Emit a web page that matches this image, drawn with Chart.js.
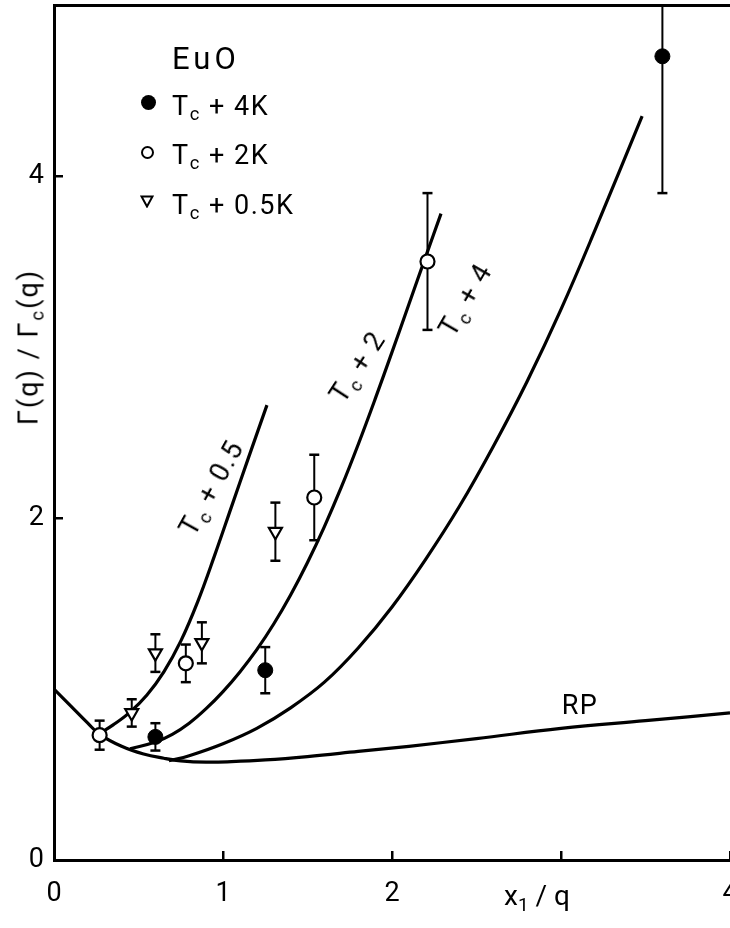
<!DOCTYPE html>
<html><head><meta charset="utf-8">
<script src="https://cdn.jsdelivr.net/npm/chart.js@4/dist/chart.umd.min.js"></script>
<style>
html,body{margin:0;padding:0;background:#fff;}
#wrap{position:relative;width:730px;height:928px;overflow:hidden;font-family:Roboto,'DejaVu Sans',sans-serif;color:#000;}
canvas{position:absolute;left:0;top:0;}
.t{position:absolute;white-space:nowrap;line-height:1;}
.t sub{font-size:68%;vertical-align:-0.3em;line-height:0;}
.mk{position:absolute;box-sizing:border-box;}
.lg{font-size:27px;letter-spacing:1.5px;}
</style></head><body>
<div id="wrap">
<canvas id="c" width="730" height="928"></canvas>
<div class="t" style="left:172px;top:58px;transform:translateY(-50%);font-size:31px;letter-spacing:4px;">EuO</div>
<div class="mk" style="left:141px;top:95px;width:15px;height:15px;border-radius:50%;background:#000;"></div>
<div class="t lg" style="left:172px;top:106px;transform:translateY(-50%);">T<sub>c</sub> + 4K</div>
<div class="mk" style="left:141px;top:146px;width:13px;height:13px;border-radius:50%;border:2px solid #000;"></div>
<div class="t lg" style="left:172px;top:155px;transform:translateY(-50%);">T<sub>c</sub> + 2K</div>
<svg class="mk" style="left:140px;top:195px;" width="14" height="13"><polygon points="1.5,1.5 12.5,1.5 7,11.5" fill="#fff" stroke="#000" stroke-width="2"/></svg>
<div class="t lg" style="left:172px;top:205px;transform:translateY(-50%);">T<sub>c</sub> + 0.5K</div>
<div class="t lg" style="left:212px;top:488px;transform:translate(-50%,-50%) rotate(-61deg);">T<sub>c</sub> + 0.5</div>
<div class="t lg" style="left:358px;top:367px;transform:translate(-50%,-50%) rotate(-57deg);">T<sub>c</sub> + 2</div>
<div class="t lg" style="left:466px;top:300px;transform:translate(-50%,-50%) rotate(-60deg);">T<sub>c</sub> + 4</div>
<div class="t lg" style="left:580px;top:705px;transform:translate(-50%,-50%);">RP</div>
<div class="t" style="left:29px;top:347px;transform:translate(-50%,-50%) rotate(-90deg);font-size:27px;letter-spacing:2px;">Γ(q) / Γ<sub>c</sub>(q)</div>
<div class="t" style="left:537px;top:896px;transform:translate(-50%,-50%);font-size:28px;">x<sub>1</sub> / q</div>
</div>
<script>
// ---- data ----
const rpX   = [0, 0.1, 0.2, 0.27, 0.4, 0.53, 0.65, 0.75, 0.9, 1.05, 1.25, 1.5, 1.8, 2.1, 2.5, 3.0, 3.5, 4.0];
const rpY   = [1.0, 0.9, 0.8, 0.735, 0.665, 0.62, 0.595, 0.58, 0.572, 0.575, 0.585, 0.605, 0.635, 0.665, 0.71, 0.77, 0.815, 0.86];
const tc05X = [0.27, 0.35, 0.45, 0.55, 0.65, 0.75, 0.85, 0.95, 1.05, 1.15, 1.26];
const tc05Y = [0.74, 0.79, 0.865, 0.965, 1.10, 1.28, 1.51, 1.78, 2.065, 2.35, 2.66];
const tc2X  = [0.45, 0.6, 0.7, 0.8, 0.9, 1.0, 1.1, 1.2, 1.3, 1.4, 1.5, 1.6, 1.7, 1.8, 1.9, 2.0, 2.1, 2.2, 2.29];
const tc2Y  = [0.65, 0.69, 0.735, 0.80, 0.885, 0.985, 1.10, 1.23, 1.38, 1.55, 1.74, 1.95, 2.18, 2.43, 2.695, 2.97, 3.25, 3.53, 3.78];
const tc4X  = [0.68, 0.8, 1.0, 1.2, 1.4, 1.6, 1.8, 2.0, 2.2, 2.4, 2.6, 2.8, 3.0, 3.2, 3.48];
const tc4Y  = [0.58, 0.61, 0.68, 0.77, 0.89, 1.04, 1.24, 1.48, 1.76, 2.07, 2.42, 2.80, 3.22, 3.68, 4.35];

const filledX = [0.6, 1.25, 3.6];
const filledY = [0.72, 1.11, 4.70];
const filledErr = [0.08, 0.135, 0.8];
const openX = [0.27, 0.78, 1.54, 2.21];
const openY = [0.73, 1.15, 2.12, 3.50];
const openErr = [0.085, 0.11, 0.25, 0.4];
const triX = [0.46, 0.60, 0.875, 1.31];
const triY = [0.86, 1.21, 1.27, 1.92];
const triErr = [0.08, 0.11, 0.12, 0.17];

const xTicks = [0, 1, 2, 4];
const yTicks = [0, 2, 4];

// ---- build datasets ----
const pts = (xs, ys) => xs.map((x, i) => ({x, y: ys[i]}));
function errPts(xs, ys, es) {
  const out = [];
  xs.forEach((x, i) => { out.push({x, y: ys[i] - es[i]}, {x, y: ys[i] + es[i]}, {x, y: null}); });
  return out;
}
const curve = (xs, ys) => ({type:'line', data: pts(xs, ys), borderColor:'#000', borderWidth:3.2, pointRadius:0,
  tension:0.4, fill:false, order:3});
const errDs = (xs, ys, es) => ({type:'line', data: errPts(xs, ys, es), borderColor:'#000', backgroundColor:'#000',
  borderWidth:2, pointStyle:'line', pointRadius:5, pointBorderWidth:2.5, spanGaps:false, order:2});

new Chart(document.getElementById('c'), {
  type: 'scatter',
  data: { datasets: [
    curve(rpX, rpY), curve(tc05X, tc05Y), curve(tc2X, tc2Y), curve(tc4X, tc4Y),
    errDs(filledX, filledY, filledErr), errDs(openX, openY, openErr), errDs(triX, triY, triErr),
    {data: pts(filledX, filledY), pointStyle:'circle', pointRadius:7.5, backgroundColor:'#000', borderColor:'#000', borderWidth:1, order:0},
    {data: pts(openX, openY), pointStyle:'circle', pointRadius:7, backgroundColor:'#fff', borderColor:'#000', borderWidth:2.2, order:0},
    {data: pts(triX, triY), pointStyle:'triangle', rotation:180, pointRadius:7.5, backgroundColor:'#fff', borderColor:'#000', borderWidth:2.2, order:0}
  ]},
  options: {
    responsive:false, animation:false, devicePixelRatio:1,
    layout:{padding:0, autoPadding:false},
    plugins:{legend:{display:false}, tooltip:{enabled:false}},
    scales: {
      x: {type:'linear', position:'bottom', min:0, max:4,
        border:{display:true, width:3, color:'#000'},
        grid:{display:true, drawOnChartArea:false, drawTicks:true, tickLength:-9, lineWidth:2.5, color:'#000'},
        ticks:{stepSize:1, padding:27, color:'#000', maxRotation:0, autoSkip:false,
          font:{family:'Roboto', size:27},
          callback:(v)=> xTicks.includes(v) ? String(v) : ''},
        afterFit:(s)=>{ s.height = 68; s.paddingLeft = 0; s.paddingRight = 0; }
      },
      x2: {type:'linear', position:'top', min:0, max:4,
        border:{display:true, width:3, color:'#000'},
        grid:{display:false}, ticks:{display:false},
        afterFit:(s)=>{ s.height = 5; s.paddingLeft = 0; s.paddingRight = 0; }
      },
      y: {type:'linear', position:'left', min:0, max:5,
        border:{display:true, width:3, color:'#000'},
        grid:{display:true, drawOnChartArea:false, drawTicks:true, tickLength:-9, lineWidth:2.5, color:'#000'},
        ticks:{stepSize:2, includeBounds:false, padding:19, color:'#000',
          font:{family:'Roboto', size:27},
          callback:(v)=> yTicks.includes(v) ? String(v) : ''},
        afterFit:(s)=>{ s.width = 54; s.paddingTop = 0; s.paddingBottom = 0; }
      }
    }
  }
});
</script>
</body></html>
